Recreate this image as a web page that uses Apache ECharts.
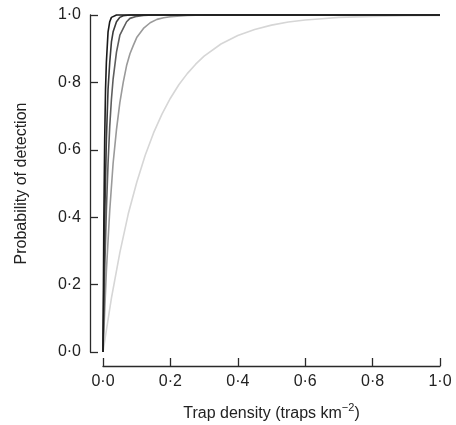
<!DOCTYPE html>
<html>
<head>
<meta charset="utf-8">
<title>Probability of detection</title>
<script src="https://cdn.jsdelivr.net/npm/echarts@6/dist/echarts.min.js"></script>
<style>
  html, body { margin: 0; padding: 0; background: #fff; }
  #main { width: 456px; height: 425px; }
</style>
</head>
<body>
<div id="main"></div>
<script>
// trap density (traps per km2) and detection probability
// darkest curve
var blackX = [0, 0.0025, 0.005, 0.0075, 0.01, 0.015, 0.02, 0.025, 0.03, 0.04, 1.0]
var blackY = [0, 0.39, 0.63, 0.78, 0.86, 0.95, 0.98, 0.993, 0.998, 1, 1]
// dark grey
var darkX = [0, 0.005, 0.01, 0.015, 0.02, 0.025, 0.03, 0.04, 0.05, 0.06, 0.08, 1.0]
var darkY = [0, 0.39, 0.63, 0.78, 0.86, 0.92, 0.95, 0.98, 0.993, 0.998, 1, 1]
// mid grey
var midX = [0, 0.005, 0.01, 0.015, 0.02, 0.025, 0.03, 0.04, 0.05, 0.06, 0.07, 0.08, 0.1, 0.12, 0.15, 1.0]
var midY = [0, 0.24, 0.42, 0.56, 0.67, 0.75, 0.81, 0.89, 0.94, 0.96, 0.98, 0.99, 0.996, 0.999, 1, 1]
// grey
var greyX = [0, 0.01, 0.02, 0.03, 0.04, 0.05, 0.06, 0.07, 0.08, 0.09, 0.1, 0.12, 0.14, 0.16, 0.18, 0.2, 0.25, 0.3, 1.0]
var greyY = [0, 0.24, 0.42, 0.56, 0.66, 0.74, 0.8, 0.85, 0.885, 0.91, 0.933, 0.96, 0.977, 0.987, 0.992, 0.995, 0.999, 1, 1]
// light grey
var lightX = [0, 0.025, 0.05, 0.075, 0.1, 0.125, 0.15, 0.175, 0.2, 0.225, 0.25, 0.275, 0.3,
  0.35, 0.4, 0.45, 0.5, 0.55, 0.6, 0.65, 0.7, 0.8, 0.9, 1.0]
var lightY = [0, 0.16, 0.295, 0.41, 0.503, 0.583, 0.65, 0.706, 0.753, 0.793, 0.826, 0.854, 0.878,
  0.914, 0.939, 0.957, 0.97, 0.979, 0.985, 0.989, 0.993, 0.996, 0.998, 0.999]

var ticks = [0, 0.2, 0.4, 0.6, 0.8, 1.0]

function pairs(xs, ys) {
  return xs.map(function (x, i) { return [x, ys[i]] })
}

function dotLabel(v) {
  return v.toFixed(1).replace('.', '\u00b7')
}

var myChart = echarts.init(document.getElementById('main'))

// each axis gets its own fresh objects
function makeAxis(extra) {
  var axis = {
    type: 'value',
    min: ticks[0],
    max: ticks[ticks.length - 1],
    interval: 0.2,
    nameLocation: 'middle',
    nameTextStyle: { fontSize: 16, color: '#222' },
    axisLine: { show: true, onZero: false, lineStyle: { color: '#2a2a2a', width: 1.3 } },
    axisTick: { show: true, inside: true, length: 8, lineStyle: { color: '#2a2a2a', width: 1.3 } },
    axisLabel: { fontSize: 16, color: '#222', formatter: dotLabel },
    splitLine: { show: false }
  }
  return Object.assign(axis, extra)
}

function line(name, xs, ys, color) {
  return {
    name: name,
    type: 'line',
    data: pairs(xs, ys),
    smooth: false,
    showSymbol: false,
    clip: false,
    lineStyle: { color: color, width: 1.6, join: 'round' }
  }
}

var option = {
  animation: false,
  textStyle: { fontFamily: 'Liberation Sans, Arial, sans-serif' },
  grid: { left: 103, right: 16, top: 15, bottom: 73, outerBoundsMode: 'none' },
  xAxis: makeAxis({
    offset: 14,
    name: 'Trap density (traps km{sup|\u22122})',
    nameGap: 36,
    nameTextStyle: {
      fontSize: 16, color: '#222', lineHeight: 24,
      rich: { sup: { fontSize: 11, color: '#222', verticalAlign: 'top', lineHeight: 13 } }
    },
    axisLabel: { fontSize: 16, color: '#222', margin: 8, formatter: dotLabel }
  }),
  yAxis: makeAxis({
    offset: 13,
    name: 'Probability of detection',
    nameGap: 60,
    axisLabel: { fontSize: 16, color: '#222', margin: 9, formatter: dotLabel }
  }),
  series: [
    line('light', lightX, lightY, '#d6d6d6'),
    line('grey', greyX, greyY, '#9a9a9a'),
    line('mid', midX, midY, '#5e5e5e'),
    line('dark', darkX, darkY, '#3a3a3a'),
    line('black', blackX, blackY, '#1a1a1a')
  ]
}

myChart.setOption(option)
</script>
</body>
</html>
